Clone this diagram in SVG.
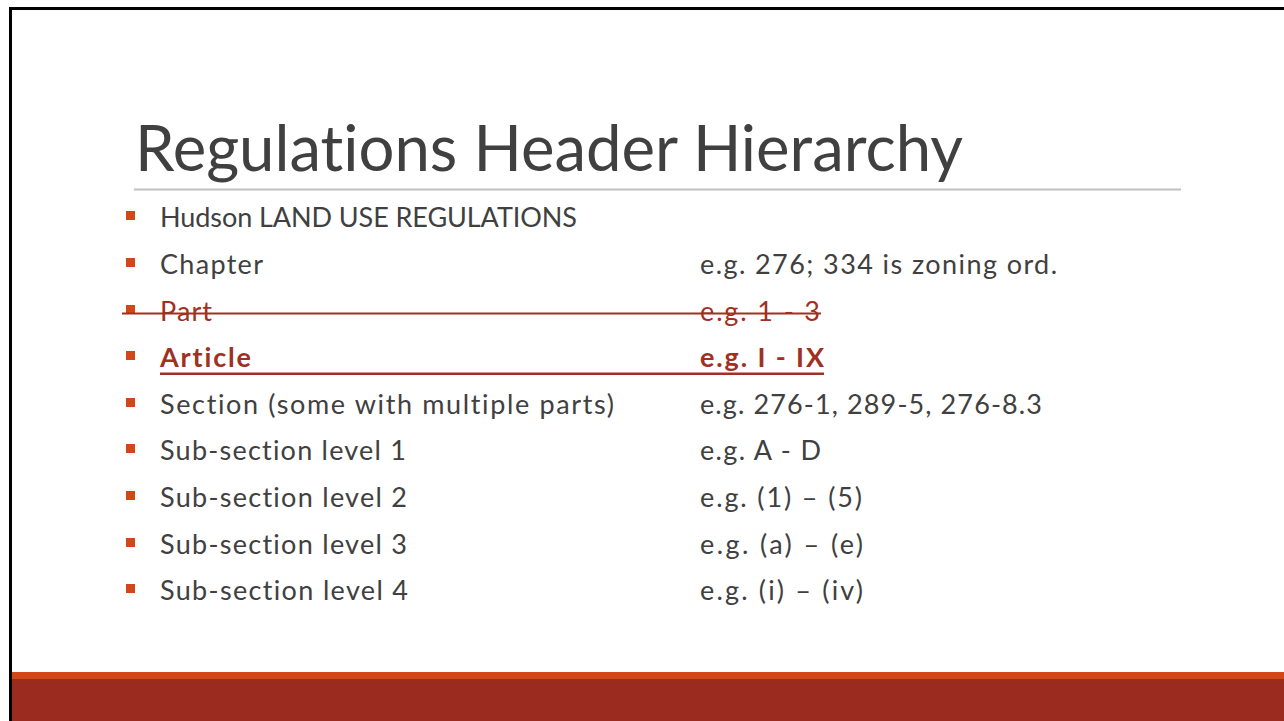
<svg xmlns="http://www.w3.org/2000/svg" width="1284" height="721" viewBox="0 0 1284 721">
  <style>
    text { font-family: Lato, "Open Sans", sans-serif; font-variant-ligatures: none; }
    .title { font-size: 64px; fill: #404040; }
    .body { font-size: 27px; fill: #404040; }
    .struck { fill: #A0301F; }
    .key { fill: #A0301F; font-weight: bold; }
    .bullet { fill: #D24717; }
  </style>
  <!-- slide background and frame -->
  <rect x="0" y="0" width="1284" height="721" fill="#ffffff"/>
  <path d="M10.5,721 V8.5 H1284" fill="none" stroke="#000" stroke-width="3"/>
  <!-- footer bands -->
  <rect x="12" y="672" width="1272" height="7" fill="#D24717"/>
  <rect x="12" y="679" width="1272" height="42" fill="#9A2B1E"/>

  <g id="title">
    <text class="title" x="135" y="171" textLength="828" lengthAdjust="spacingAndGlyphs">Regulations Header Hierarchy</text>
    <rect x="134" y="188.5" width="1047" height="2" fill="#C0C0C0"/>
  </g>

  <g id="rows">
    <g id="row-hudson">
      <rect class="bullet" x="126" y="211" width="9" height="9"/>
      <text class="body" x="160" y="227" textLength="417">Hudson LAND USE REGULATIONS</text>
    </g>
    <g id="row-chapter">
      <rect class="bullet" x="126" y="258" width="9" height="9"/>
      <text class="body" x="160" y="274" textLength="103">Chapter</text>
      <text class="body" x="700" y="274" textLength="357">e.g. 276; 334 is zoning ord.</text>
    </g>
    <g id="row-part">
      <rect class="bullet" x="126" y="305" width="9" height="9"/>
      <text class="body struck" x="160" y="321" textLength="52">Part</text>
      <text class="body struck" x="700" y="321" textLength="120">e.g. 1 - 3</text>
      <rect x="122" y="312.5" width="699" height="2" fill="#A0301F"/>
    </g>
    <g id="row-article">
      <rect class="bullet" x="126" y="351" width="9" height="9"/>
      <text class="body key" x="160" y="367" textLength="91">Article</text>
      <text class="body key" x="700" y="367" textLength="124">e.g. I - IX</text>
      <rect x="160" y="372.5" width="664" height="2.5" fill="#A0301F"/>
    </g>
    <g id="row-section">
      <rect class="bullet" x="126" y="398" width="9" height="9"/>
      <text class="body" x="160" y="414" textLength="454">Section (some with multiple parts)</text>
      <text class="body" x="700" y="414" textLength="342">e.g. 276-1, 289-5, 276-8.3</text>
    </g>
    <g id="row-sub1">
      <rect class="bullet" x="126" y="444" width="9" height="9"/>
      <text class="body" x="160" y="460" textLength="246">Sub-section level 1</text>
      <text class="body" x="700" y="460" textLength="121">e.g. A - D</text>
    </g>
    <g id="row-sub2">
      <rect class="bullet" x="126" y="491" width="9" height="9"/>
      <text class="body" x="160" y="507" textLength="247">Sub-section level 2</text>
      <text class="body" x="700" y="507" textLength="162">e.g. (1) – (5)</text>
    </g>
    <g id="row-sub3">
      <rect class="bullet" x="126" y="538" width="9" height="9"/>
      <text class="body" x="160" y="554" textLength="247">Sub-section level 3</text>
      <text class="body" x="700" y="554" textLength="163">e.g. (a) – (e)</text>
    </g>
    <g id="row-sub4">
      <rect class="bullet" x="126" y="584" width="9" height="9"/>
      <text class="body" x="160" y="600" textLength="248">Sub-section level 4</text>
      <text class="body" x="700" y="600" textLength="163">e.g. (i) – (iv)</text>
    </g>
  </g>
</svg>
